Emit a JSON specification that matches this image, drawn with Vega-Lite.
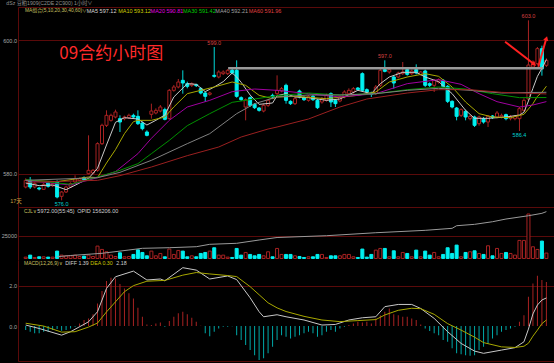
{
"$schema":"https://vega.github.io/schema/vega-lite/v6.json",
"width":536,"height":363,
"autosize":{"type":"none"},
"padding":{"left":18,"top":0,"right":0,"bottom":0},
"background":"#000000",
"config":{"view":{"stroke":null},"axis":{"domainColor":"#5a0a0a","gridColor":"#5a0a0a","ticks":false,"labelColor":"#a8a8a8","labelFont":"Liberation Sans","labelFontSize":5.5,"labelPadding":1.5,"labelBound":false,"labelOverlap":false,"labelFlush":false}},
"datasets":{
"kl":[
{"k":0,"o":578.0,"h":579.3,"l":577.8,"c":579.0,"v":1500,"m":-0.2},
{"k":1,"o":579.0,"h":579.5,"l":577.7,"c":578.0,"v":3700,"m":-0.28},
{"k":2,"o":578.0,"h":578.7,"l":577.8,"c":578.5,"v":1100,"m":-0.36},
{"k":3,"o":577.85,"h":578.0,"l":577.5,"c":577.7,"v":1850,"m":-0.36},
{"k":4,"o":577.65,"h":578.6,"l":577.6,"c":578.4,"v":1850,"m":-0.28},
{"k":5,"o":578.6,"h":578.8,"l":577.9,"c":578.1,"v":1500,"m":-0.28},
{"k":6,"o":578.2,"h":578.6,"l":578.0,"c":578.5,"v":1500,"m":-0.2},
{"k":7,"o":578.8,"h":579.0,"l":576.3,"c":576.5,"v":8150,"m":-0.15},
{"k":8,"o":576.6,"h":577.4,"l":576.0,"c":577.25,"v":3700,"m":-0.23},
{"k":9,"o":577.25,"h":578.2,"l":577.1,"c":578.0,"v":2950,"m":-0.2},
{"k":10,"o":578.0,"h":578.7,"l":577.9,"c":578.5,"v":2950,"m":-0.12},
{"k":11,"o":578.75,"h":579.75,"l":578.6,"c":579.25,"v":3700,"m":-0.03},
{"k":12,"o":579.0,"h":579.4,"l":578.9,"c":579.25,"v":2200,"m":0.13},
{"k":13,"o":579.4,"h":579.6,"l":579.0,"c":579.1,"v":2600,"m":0.3},
{"k":14,"o":580.0,"h":585.75,"l":579.9,"c":580.5,"v":3700,"m":0.38},
{"k":15,"o":580.1,"h":580.7,"l":579.9,"c":580.5,"v":2200,"m":0.58},
{"k":16,"o":580.5,"h":584.7,"l":580.3,"c":584.5,"v":13700,"m":1.12},
{"k":17,"o":584.5,"h":587.5,"l":584.3,"c":587.25,"v":10000,"m":1.73},
{"k":18,"o":587.25,"h":589.5,"l":587.0,"c":588.75,"v":7400,"m":2.23},
{"k":19,"o":588.0,"h":589.0,"l":587.8,"c":588.75,"v":3700,"m":2.39},
{"k":20,"o":588.5,"h":589.6,"l":588.3,"c":589.25,"v":2200,"m":2.36},
{"k":21,"o":588.25,"h":588.75,"l":586.25,"c":587.75,"v":6300,"m":2.08},
{"k":22,"o":588.25,"h":588.7,"l":588.0,"c":588.5,"v":1850,"m":1.86},
{"k":23,"o":588.4,"h":589.0,"l":588.2,"c":588.75,"v":2200,"m":1.62},
{"k":24,"o":588.75,"h":589.0,"l":588.3,"c":588.5,"v":4450,"m":1.37},
{"k":25,"o":588.6,"h":589.5,"l":587.3,"c":587.5,"v":9600,"m":0.91},
{"k":26,"o":587.6,"h":587.8,"l":586.5,"c":586.75,"v":6650,"m":0.46},
{"k":27,"o":586.25,"h":586.5,"l":585.6,"c":585.75,"v":2950,"m":0.08},
{"k":28,"o":588.9,"h":590.5,"l":588.25,"c":589.4,"v":8150,"m":0.05},
{"k":29,"o":589.1,"h":589.8,"l":588.9,"c":589.5,"v":2950,"m":0.13},
{"k":30,"o":589.4,"h":590.3,"l":589.2,"c":590.0,"v":5550,"m":0.18},
{"k":31,"o":589.6,"h":589.9,"l":588.0,"c":588.15,"v":1850,"m":-0.03},
{"k":32,"o":588.25,"h":592.7,"l":588.1,"c":592.5,"v":10400,"m":0.25},
{"k":33,"o":592.5,"h":593.3,"l":592.3,"c":593.0,"v":4450,"m":0.46},
{"k":34,"o":593.0,"h":594.2,"l":592.8,"c":593.75,"v":8900,"m":0.63},
{"k":35,"o":594.0,"h":595.5,"l":592.0,"c":593.6,"v":8150,"m":0.71},
{"k":36,"o":593.5,"h":593.8,"l":592.8,"c":593.1,"v":1850,"m":0.58},
{"k":37,"o":593.25,"h":593.7,"l":593.0,"c":593.5,"v":2950,"m":0.41},
{"k":38,"o":593.35,"h":593.5,"l":593.0,"c":593.2,"v":1850,"m":0.21},
{"k":39,"o":592.75,"h":593.0,"l":591.9,"c":592.1,"v":5550,"m":0.02},
{"k":40,"o":592.1,"h":592.3,"l":590.75,"c":591.6,"v":6650,"m":-0.36},
{"k":41,"o":591.9,"h":592.3,"l":591.7,"c":592.1,"v":8150,"m":-0.5},
{"k":42,"o":594.75,"h":599.0,"l":594.4,"c":594.6,"v":11850,"m":-0.28},
{"k":43,"o":594.5,"h":595.5,"l":594.3,"c":595.25,"v":3700,"m":-0.12},
{"k":44,"o":595.0,"h":595.5,"l":594.8,"c":595.25,"v":3700,"m":-0.03},
{"k":45,"o":595.0,"h":595.7,"l":594.8,"c":595.5,"v":1500,"m":-0.03},
{"k":46,"o":595.5,"h":595.7,"l":594.9,"c":595.1,"v":1100,"m":-0.01},
{"k":47,"o":595.5,"h":597.0,"l":591.4,"c":591.6,"v":11100,"m":-0.45},
{"k":48,"o":591.4,"h":591.6,"l":590.9,"c":591.1,"v":3700,"m":-0.69},
{"k":49,"o":590.0,"h":591.3,"l":588.0,"c":591.1,"v":6650,"m":-0.94},
{"k":50,"o":591.4,"h":591.6,"l":590.0,"c":590.25,"v":4450,"m":-1.19},
{"k":51,"o":590.4,"h":590.6,"l":589.7,"c":589.9,"v":2950,"m":-1.44},
{"k":52,"o":589.85,"h":590.0,"l":589.3,"c":589.5,"v":4450,"m":-1.68},
{"k":53,"o":589.4,"h":590.5,"l":589.2,"c":590.25,"v":2950,"m":-1.6},
{"k":54,"o":590.25,"h":591.2,"l":590.0,"c":591.0,"v":7400,"m":-1.35},
{"k":55,"o":591.75,"h":592.0,"l":591.3,"c":591.5,"v":1850,"m":-1.02},
{"k":56,"o":592.0,"h":594.75,"l":591.8,"c":592.5,"v":11100,"m":-0.69},
{"k":57,"o":592.4,"h":593.0,"l":592.2,"c":592.75,"v":4450,"m":-0.45},
{"k":58,"o":593.25,"h":593.5,"l":590.5,"c":591.0,"v":4450,"m":-0.53},
{"k":59,"o":590.85,"h":591.0,"l":590.3,"c":590.5,"v":4450,"m":-0.61},
{"k":60,"o":590.5,"h":591.5,"l":590.3,"c":591.25,"v":2950,"m":-0.53},
{"k":61,"o":592.4,"h":592.6,"l":591.3,"c":591.5,"v":2200,"m":-0.45},
{"k":62,"o":591.4,"h":591.6,"l":590.9,"c":591.1,"v":1100,"m":-0.36},
{"k":63,"o":591.0,"h":591.8,"l":590.8,"c":591.6,"v":1850,"m":-0.28},
{"k":64,"o":591.6,"h":591.8,"l":590.9,"c":591.1,"v":1850,"m":-0.36},
{"k":65,"o":591.0,"h":591.2,"l":589.7,"c":589.9,"v":4450,"m":-0.53},
{"k":66,"o":590.75,"h":591.5,"l":590.5,"c":591.25,"v":4450,"m":-0.45},
{"k":67,"o":591.0,"h":592.0,"l":590.8,"c":591.75,"v":1100,"m":-0.28},
{"k":68,"o":592.0,"h":592.2,"l":590.0,"c":590.75,"v":2950,"m":-0.2},
{"k":69,"o":591.0,"h":591.2,"l":590.0,"c":590.5,"v":2950,"m":-0.28},
{"k":70,"o":590.9,"h":591.7,"l":590.7,"c":591.5,"v":2950,"m":-0.12},
{"k":71,"o":591.5,"h":592.5,"l":591.3,"c":592.25,"v":4450,"m":-0.03},
{"k":72,"o":592.0,"h":592.8,"l":591.8,"c":592.5,"v":4450,"m":0.05},
{"k":73,"o":592.25,"h":593.0,"l":592.0,"c":592.75,"v":1850,"m":0.13},
{"k":74,"o":592.85,"h":593.0,"l":592.4,"c":592.6,"v":1100,"m":0.21},
{"k":75,"o":595.0,"h":595.2,"l":592.3,"c":592.5,"v":10400,"m":0.18},
{"k":76,"o":592.6,"h":592.8,"l":592.0,"c":592.25,"v":1500,"m":0.21},
{"k":77,"o":592.1,"h":592.3,"l":591.5,"c":591.9,"v":4450,"m":0.13},
{"k":78,"o":592.0,"h":593.3,"l":591.8,"c":593.0,"v":9250,"m":0.38},
{"k":79,"o":593.25,"h":595.7,"l":593.0,"c":595.5,"v":11100,"m":0.54},
{"k":80,"o":595.6,"h":597.0,"l":595.2,"c":595.35,"v":11100,"m":0.71},
{"k":81,"o":595.25,"h":595.8,"l":595.0,"c":595.6,"v":1850,"m":0.87},
{"k":82,"o":594.5,"h":594.7,"l":592.75,"c":593.6,"v":8500,"m":0.58},
{"k":83,"o":594.5,"h":595.3,"l":594.3,"c":595.1,"v":1850,"m":0.54},
{"k":84,"o":595.0,"h":596.75,"l":594.8,"c":595.25,"v":6650,"m":0.46},
{"k":85,"o":595.6,"h":595.8,"l":594.7,"c":594.9,"v":5550,"m":0.46},
{"k":86,"o":595.0,"h":595.6,"l":594.8,"c":595.4,"v":1850,"m":0.38},
{"k":87,"o":595.6,"h":596.4,"l":594.9,"c":595.1,"v":9250,"m":0.3},
{"k":88,"o":594.9,"h":595.4,"l":594.7,"c":595.25,"v":1850,"m":0.08},
{"k":89,"o":595.4,"h":595.6,"l":593.0,"c":593.25,"v":8150,"m":-0.12},
{"k":90,"o":593.5,"h":593.7,"l":593.0,"c":593.25,"v":3700,"m":-0.25},
{"k":91,"o":593.25,"h":594.2,"l":592.25,"c":594.0,"v":6650,"m":-0.36},
{"k":92,"o":593.75,"h":594.3,"l":593.5,"c":594.1,"v":1850,"m":-0.45},
{"k":93,"o":594.0,"h":594.2,"l":592.9,"c":593.1,"v":4450,"m":-0.69},
{"k":94,"o":593.1,"h":593.3,"l":590.6,"c":590.85,"v":11850,"m":-0.78},
{"k":95,"o":590.85,"h":591.0,"l":589.8,"c":590.0,"v":5550,"m":-1.1},
{"k":96,"o":589.85,"h":590.0,"l":588.0,"c":588.6,"v":14800,"m":-1.35},
{"k":97,"o":588.75,"h":589.8,"l":588.5,"c":589.6,"v":1850,"m":-1.4},
{"k":98,"o":589.35,"h":589.6,"l":588.0,"c":588.5,"v":6650,"m":-1.44},
{"k":99,"o":588.25,"h":588.8,"l":588.0,"c":588.6,"v":7400,"m":-1.47},
{"k":100,"o":588.5,"h":588.7,"l":587.0,"c":587.25,"v":8500,"m":-1.44},
{"k":101,"o":587.5,"h":588.7,"l":587.2,"c":588.5,"v":5550,"m":-1.19},
{"k":102,"o":588.25,"h":588.5,"l":587.5,"c":587.75,"v":4450,"m":-1.02},
{"k":103,"o":587.75,"h":588.8,"l":587.0,"c":588.6,"v":14050,"m":-0.86},
{"k":104,"o":588.65,"h":588.8,"l":588.2,"c":588.4,"v":2950,"m":-0.61},
{"k":105,"o":588.5,"h":589.4,"l":588.3,"c":589.1,"v":11100,"m":-0.45},
{"k":106,"o":588.5,"h":589.0,"l":588.3,"c":588.75,"v":5550,"m":-0.28},
{"k":107,"o":588.85,"h":589.0,"l":588.0,"c":588.25,"v":6650,"m":-0.2},
{"k":108,"o":588.25,"h":588.8,"l":588.0,"c":588.6,"v":5550,"m":-0.12},
{"k":109,"o":588.25,"h":588.8,"l":588.0,"c":588.6,"v":3700,"m":-0.03},
{"k":110,"o":588.25,"h":590.0,"l":586.4,"c":589.75,"v":20000,"m":0.21},
{"k":111,"o":589.5,"h":591.3,"l":589.3,"c":591.0,"v":20000,"m":0.54},
{"k":112,"o":591.2,"h":603.0,"l":591.0,"c":596.3,"v":49250,"m":1.45},
{"k":113,"o":596.0,"h":597.0,"l":595.8,"c":596.7,"v":12950,"m":2.11},
{"k":114,"o":596.5,"h":599.0,"l":596.3,"c":598.75,"v":10000,"m":2.49},
{"k":115,"o":598.75,"h":599.2,"l":594.7,"c":595.75,"v":19250,"m":2.28},
{"k":116,"o":596.25,"h":597.3,"l":596.0,"c":597.0,"v":5972,"m":2.18}
],
"ma":[
{"s":"MA5","k":0,"v":578.6},{"s":"MA5","k":3,"v":578.2},{"s":"MA5","k":6,"v":578.3},{"s":"MA5","k":9,"v":577.6},{"s":"MA5","k":12,"v":578.6},{"s":"MA5","k":14,"v":579.3},{"s":"MA5","k":16,"v":580.8},{"s":"MA5","k":18,"v":584.3},{"s":"MA5","k":20,"v":587.7},{"s":"MA5","k":22,"v":588.4},{"s":"MA5","k":25,"v":588.2},{"s":"MA5","k":27,"v":587.3},{"s":"MA5","k":29,"v":588.0},{"s":"MA5","k":31,"v":588.8},{"s":"MA5","k":33,"v":591.5},{"s":"MA5","k":36,"v":593.5},{"s":"MA5","k":38,"v":593.4},{"s":"MA5","k":40,"v":592.3},{"s":"MA5","k":42,"v":593.0},{"s":"MA5","k":44,"v":593.8},{"s":"MA5","k":46,"v":595.1},{"s":"MA5","k":47,"v":594.5},{"s":"MA5","k":48,"v":593.7},{"s":"MA5","k":50,"v":591.8},{"s":"MA5","k":52,"v":590.4},{"s":"MA5","k":55,"v":590.6},{"s":"MA5","k":56,"v":591.7},{"s":"MA5","k":58,"v":592.0},{"s":"MA5","k":60,"v":591.5},{"s":"MA5","k":63,"v":591.4},{"s":"MA5","k":67,"v":591.0},{"s":"MA5","k":70,"v":591.2},{"s":"MA5","k":74,"v":592.5},{"s":"MA5","k":77,"v":592.0},{"s":"MA5","k":79,"v":593.5},{"s":"MA5","k":81,"v":594.5},{"s":"MA5","k":84,"v":595.2},{"s":"MA5","k":87,"v":595.2},{"s":"MA5","k":89,"v":594.5},{"s":"MA5","k":92,"v":593.8},{"s":"MA5","k":95,"v":592.0},{"s":"MA5","k":98,"v":589.5},{"s":"MA5","k":100,"v":588.3},{"s":"MA5","k":103,"v":588.3},{"s":"MA5","k":107,"v":588.5},{"s":"MA5","k":110,"v":588.8},{"s":"MA5","k":111,"v":589.2},{"s":"MA5","k":112,"v":590.9},{"s":"MA5","k":113,"v":592.8},{"s":"MA5","k":114,"v":594.6},{"s":"MA5","k":115,"v":595.8},{"s":"MA5","k":116,"v":597.12},
{"s":"MA10","k":0,"v":579.0},{"s":"MA10","k":7,"v":578.8},{"s":"MA10","k":14,"v":579.5},{"s":"MA10","k":16,"v":579.4},{"s":"MA10","k":18,"v":581.6},{"s":"MA10","k":20,"v":583.6},{"s":"MA10","k":22,"v":586.0},{"s":"MA10","k":24,"v":587.8},{"s":"MA10","k":25,"v":588.0},{"s":"MA10","k":28,"v":588.0},{"s":"MA10","k":31,"v":588.5},{"s":"MA10","k":33,"v":590.0},{"s":"MA10","k":36,"v":592.0},{"s":"MA10","k":39,"v":592.5},{"s":"MA10","k":42,"v":593.0},{"s":"MA10","k":46,"v":593.75},{"s":"MA10","k":49,"v":593.25},{"s":"MA10","k":52,"v":591.75},{"s":"MA10","k":55,"v":591.25},{"s":"MA10","k":56,"v":591.5},{"s":"MA10","k":60,"v":591.6},{"s":"MA10","k":67,"v":591.25},{"s":"MA10","k":74,"v":591.75},{"s":"MA10","k":78,"v":592.25},{"s":"MA10","k":81,"v":593.75},{"s":"MA10","k":85,"v":594.5},{"s":"MA10","k":89,"v":595.0},{"s":"MA10","k":92,"v":594.6},{"s":"MA10","k":95,"v":593.0},{"s":"MA10","k":98,"v":590.75},{"s":"MA10","k":101,"v":589.0},{"s":"MA10","k":104,"v":588.5},{"s":"MA10","k":108,"v":588.4},{"s":"MA10","k":111,"v":588.9},{"s":"MA10","k":112,"v":589.7},{"s":"MA10","k":113,"v":590.5},{"s":"MA10","k":114,"v":591.6},{"s":"MA10","k":115,"v":592.2},{"s":"MA10","k":116,"v":593.12},
{"s":"MA20","k":0,"v":579.0},{"s":"MA20","k":10,"v":578.3},{"s":"MA20","k":16,"v":579.4},{"s":"MA20","k":20,"v":580.3},{"s":"MA20","k":25,"v":583.0},{"s":"MA20","k":28,"v":585.3},{"s":"MA20","k":32,"v":588.0},{"s":"MA20","k":36,"v":590.0},{"s":"MA20","k":41,"v":591.0},{"s":"MA20","k":46,"v":592.3},{"s":"MA20","k":51,"v":592.7},{"s":"MA20","k":56,"v":592.5},{"s":"MA20","k":63,"v":592.0},{"s":"MA20","k":70,"v":591.5},{"s":"MA20","k":78,"v":592.0},{"s":"MA20","k":85,"v":593.5},{"s":"MA20","k":92,"v":594.1},{"s":"MA20","k":97,"v":593.4},{"s":"MA20","k":101,"v":592.0},{"s":"MA20","k":105,"v":590.8},{"s":"MA20","k":110,"v":590.0},{"s":"MA20","k":113,"v":590.3},{"s":"MA20","k":116,"v":590.81},
{"s":"MA30","k":0,"v":579.1},{"s":"MA30","k":10,"v":578.4},{"s":"MA30","k":16,"v":579.5},{"s":"MA30","k":21,"v":580.5},{"s":"MA30","k":25,"v":581.5},{"s":"MA30","k":28,"v":583.0},{"s":"MA30","k":32,"v":585.0},{"s":"MA30","k":36,"v":587.2},{"s":"MA30","k":41,"v":589.0},{"s":"MA30","k":46,"v":590.7},{"s":"MA30","k":51,"v":591.2},{"s":"MA30","k":56,"v":591.7},{"s":"MA30","k":63,"v":592.1},{"s":"MA30","k":70,"v":591.8},{"s":"MA30","k":78,"v":592.0},{"s":"MA30","k":85,"v":592.6},{"s":"MA30","k":92,"v":593.0},{"s":"MA30","k":98,"v":592.7},{"s":"MA30","k":104,"v":592.0},{"s":"MA30","k":110,"v":591.4},{"s":"MA30","k":116,"v":591.42},
{"s":"MA40","k":0,"v":579.0},{"s":"MA40","k":16,"v":579.4},{"s":"MA40","k":21,"v":580.2},{"s":"MA40","k":28,"v":582.0},{"s":"MA40","k":36,"v":584.5},{"s":"MA40","k":41,"v":586.0},{"s":"MA40","k":47,"v":589.0},{"s":"MA40","k":51,"v":590.5},{"s":"MA40","k":56,"v":591.5},{"s":"MA40","k":63,"v":591.8},{"s":"MA40","k":70,"v":591.8},{"s":"MA40","k":78,"v":592.0},{"s":"MA40","k":85,"v":592.5},{"s":"MA40","k":92,"v":592.8},{"s":"MA40","k":99,"v":592.5},{"s":"MA40","k":106,"v":592.1},{"s":"MA40","k":116,"v":592.21},
{"s":"MA60","k":0,"v":578.7},{"s":"MA60","k":16,"v":579.0},{"s":"MA60","k":21,"v":579.7},{"s":"MA60","k":28,"v":581.0},{"s":"MA60","k":36,"v":582.7},{"s":"MA60","k":43,"v":584.0},{"s":"MA60","k":48,"v":585.5},{"s":"MA60","k":54,"v":586.7},{"s":"MA60","k":56,"v":587.0},{"s":"MA60","k":63,"v":588.2},{"s":"MA60","k":70,"v":590.0},{"s":"MA60","k":76,"v":591.2},{"s":"MA60","k":85,"v":592.1},{"s":"MA60","k":92,"v":592.6},{"s":"MA60","k":99,"v":592.6},{"s":"MA60","k":106,"v":592.2},{"s":"MA60","k":116,"v":591.96}
],
"oi":[
{"k":7,"v":138700},{"k":10,"v":139160},{"k":17,"v":140020},{"k":23,"v":141300},{"k":26,"v":141960},{"k":32,"v":142190},{"k":38,"v":142580},{"k":41,"v":143510},{"k":47,"v":143900},{"k":52,"v":145180},{"k":56,"v":146150},{"k":67,"v":146850},{"k":78,"v":148010},{"k":89,"v":148940},{"k":95,"v":149720},{"k":96,"v":150730},{"k":100,"v":151270},{"k":104,"v":152280},{"k":107,"v":153330},{"k":112,"v":154610},{"k":115,"v":155540},{"k":116,"v":156206}
],
"ml":[
{"s":"DIFF","k":0,"v":0.05},{"s":"DIFF","k":3,"v":-0.12},{"s":"DIFF","k":8,"v":-0.45},{"s":"DIFF","k":10,"v":-0.28},{"s":"DIFF","k":14,"v":0.21},{"s":"DIFF","k":16,"v":0.71},{"s":"DIFF","k":18,"v":1.86},{"s":"DIFF","k":20,"v":2.44},{"s":"DIFF","k":24,"v":2.72},{"s":"DIFF","k":27,"v":2.28},{"s":"DIFF","k":30,"v":2.33},{"s":"DIFF","k":31,"v":2.24},{"s":"DIFF","k":35,"v":2.89},{"s":"DIFF","k":38,"v":2.77},{"s":"DIFF","k":41,"v":2.33},{"s":"DIFF","k":45,"v":2.48},{"s":"DIFF","k":47,"v":2.3},{"s":"DIFF","k":50,"v":1.4},{"s":"DIFF","k":52,"v":0.71},{"s":"DIFF","k":53,"v":0.46},{"s":"DIFF","k":56,"v":0.56},{"s":"DIFF","k":58,"v":0.46},{"s":"DIFF","k":62,"v":0.3},{"s":"DIFF","k":66,"v":0.05},{"s":"DIFF","k":69,"v":0.08},{"s":"DIFF","k":72,"v":0.3},{"s":"DIFF","k":75,"v":0.41},{"s":"DIFF","k":78,"v":0.46},{"s":"DIFF","k":80,"v":0.96},{"s":"DIFF","k":83,"v":1.07},{"s":"DIFF","k":86,"v":1.07},{"s":"DIFF","k":88,"v":0.87},{"s":"DIFF","k":91,"v":0.38},{"s":"DIFF","k":94,"v":-0.28},{"s":"DIFF","k":97,"v":-0.86},{"s":"DIFF","k":100,"v":-1.24},{"s":"DIFF","k":102,"v":-1.35},{"s":"DIFF","k":106,"v":-1.19},{"s":"DIFF","k":109,"v":-1.07},{"s":"DIFF","k":111,"v":-0.78},{"s":"DIFF","k":112,"v":-0.15},{"s":"DIFF","k":113,"v":0.6},{"s":"DIFF","k":114,"v":1.04},{"s":"DIFF","k":115,"v":1.29},{"s":"DIFF","k":116,"v":1.39},
{"s":"DEA","k":0,"v":0.14},{"s":"DEA","k":4,"v":0.0},{"s":"DEA","k":8,"v":-0.3},{"s":"DEA","k":11,"v":-0.28},{"s":"DEA","k":14,"v":-0.05},{"s":"DEA","k":16,"v":0.15},{"s":"DEA","k":18,"v":0.7},{"s":"DEA","k":20,"v":1.2},{"s":"DEA","k":22,"v":1.7},{"s":"DEA","k":24,"v":2.0},{"s":"DEA","k":27,"v":2.22},{"s":"DEA","k":31,"v":2.26},{"s":"DEA","k":35,"v":2.52},{"s":"DEA","k":38,"v":2.65},{"s":"DEA","k":41,"v":2.58},{"s":"DEA","k":45,"v":2.5},{"s":"DEA","k":47,"v":2.45},{"s":"DEA","k":50,"v":1.95},{"s":"DEA","k":52,"v":1.55},{"s":"DEA","k":54,"v":1.15},{"s":"DEA","k":56,"v":0.9},{"s":"DEA","k":58,"v":0.72},{"s":"DEA","k":62,"v":0.48},{"s":"DEA","k":66,"v":0.3},{"s":"DEA","k":70,"v":0.22},{"s":"DEA","k":74,"v":0.27},{"s":"DEA","k":78,"v":0.32},{"s":"DEA","k":80,"v":0.55},{"s":"DEA","k":83,"v":0.78},{"s":"DEA","k":86,"v":0.88},{"s":"DEA","k":88,"v":0.86},{"s":"DEA","k":91,"v":0.58},{"s":"DEA","k":94,"v":0.12},{"s":"DEA","k":97,"v":-0.2},{"s":"DEA","k":100,"v":-0.55},{"s":"DEA","k":102,"v":-0.82},{"s":"DEA","k":106,"v":-1.03},{"s":"DEA","k":109,"v":-1.06},{"s":"DEA","k":111,"v":-1.0},{"s":"DEA","k":112,"v":-0.85},{"s":"DEA","k":113,"v":-0.5},{"s":"DEA","k":114,"v":-0.2},{"s":"DEA","k":115,"v":0.12},{"s":"DEA","k":116,"v":0.3}
],
"hl":[
{"k":8,"p":576.0,"kind":"low"},{"k":42,"p":599.0,"kind":"high"},{"k":80,"p":597.0,"kind":"high"},{"k":110,"p":586.4,"kind":"low"},{"k":112,"p":603.0,"kind":"high"}
]
},
"layer":[
{"data":{"name":"kl"},"mark":{"type":"rule","strokeWidth":1},
 "encoding":{"x":{"field":"k","type":"quantitative","scale":{"domain":[-0.6,116.58],"nice":false,"zero":false},"axis":null},
  "y":{"field":"l","type":"quantitative","scale":{"domain":[575,605],"range":[207,7],"nice":false,"zero":false},
   "axis":{"orient":"left","values":[575,580,600,605],"grid":true,"title":null,"labelExpr":"datum.value==580||datum.value==600?format(datum.value,'.1f'):''"}},
  "y2":{"field":"h"},
  "color":{"condition":{"test":"datum.c>=datum.o","value":"#a82222"},"value":"#00d8d8"}}},
{"data":{"name":"kl"},"mark":{"type":"bar","size":3,"strokeWidth":1},
 "encoding":{"x":{"field":"k","type":"quantitative"},
  "y":{"field":"o","type":"quantitative","scale":{"domain":[575,605],"range":[207,7],"nice":false,"zero":false},"axis":null},
  "y2":{"field":"c"},
  "fill":{"condition":{"test":"datum.c>=datum.o","value":"#000000"},"value":"#00f0f0"},
  "stroke":{"condition":{"test":"datum.c>=datum.o","value":"#a82222"},"value":"#00f0f0"}}},
{"data":{"name":"ma"},"mark":{"type":"line","strokeWidth":1},
 "encoding":{"x":{"field":"k","type":"quantitative"},
  "y":{"field":"v","type":"quantitative","scale":{"domain":[575,605],"range":[207,7],"nice":false,"zero":false},"axis":null},
  "color":{"field":"s","type":"nominal","legend":null,"scale":{"domain":["MA5","MA10","MA20","MA30","MA40","MA60","DIFF","DEA"],"range":["#c8c8c8","#a8a800","#a000a0","#009000","#808080","#9a2020","#c8c8c8","#a8a800"]}}}},
{"data":{"values":[{}]},"mark":{"type":"rule","strokeWidth":2.5,"color":"#9a9a9a"},
 "encoding":{"x":{"datum":45.1},"x2":{"datum":115.3},"y":{"datum":595.8,"scale":{"domain":[575,605],"range":[207,7],"nice":false,"zero":false},"axis":null}}},
{"data":{"name":"hl"},"transform":[{"filter":"datum.kind=='high'"}],"mark":{"type":"text","fontSize":5.5,"font":"Liberation Sans","color":"#d84040","dy":-4.5},
 "encoding":{"x":{"field":"k","type":"quantitative"},"y":{"field":"p","type":"quantitative","scale":{"domain":[575,605],"range":[207,7],"nice":false,"zero":false},"axis":null},"text":{"field":"p","type":"quantitative","format":".1f"}}},
{"data":{"name":"hl"},"transform":[{"filter":"datum.kind=='low'"}],"mark":{"type":"text","fontSize":5.5,"font":"Liberation Sans","color":"#00d0d0","dy":4},
 "encoding":{"x":{"field":"k","type":"quantitative"},"y":{"field":"p","type":"quantitative","scale":{"domain":[575,605],"range":[207,7],"nice":false,"zero":false},"axis":null},"text":{"field":"p","type":"quantitative","format":".1f"}}},
{"data":{"values":[{}]},"mark":{"type":"text","align":"left","baseline":"middle","fontSize":5.2,"font":"Liberation Sans, Noto Sans CJK SC","color":"#909090","text":"dSz  豆粕1909(C2DE 2C900)    1小时∨"},
 "encoding":{"x":{"datum":-4.32},"y":{"datum":605.675,"scale":{"domain":[575,605],"range":[207,7],"nice":false,"zero":false},"axis":null}}},
{"data":{"values":[{}]},"mark":{"type":"text","align":"left","baseline":"middle","fontSize":4.9,"font":"Liberation Sans, Noto Sans CJK SC","color":"#c8c060","text":"MA组合(5,10,20,30,40,60)∨"},
 "encoding":{"x":{"datum":-0.16},"y":{"datum":604.475,"scale":{"domain":[575,605],"range":[207,7],"nice":false,"zero":false},"axis":null}}},
{"data":{"values":[{}]},"mark":{"type":"text","align":"left","baseline":"middle","fontSize":5.5,"font":"Liberation Sans","color":"#d8d8d8","text":"MA5 597.12"},
 "encoding":{"x":{"datum":13.61},"y":{"datum":604.475,"scale":{"domain":[575,605],"range":[207,7],"nice":false,"zero":false},"axis":null}}},
{"data":{"values":[{}]},"mark":{"type":"text","align":"left","baseline":"middle","fontSize":5.5,"font":"Liberation Sans","color":"#d0d000","text":"MA10 593.12"},
 "encoding":{"x":{"datum":20.6},"y":{"datum":604.475,"scale":{"domain":[575,605],"range":[207,7],"nice":false,"zero":false},"axis":null}}},
{"data":{"values":[{}]},"mark":{"type":"text","align":"left","baseline":"middle","fontSize":5.5,"font":"Liberation Sans","color":"#e000e0","text":"MA20 590.81"},
 "encoding":{"x":{"datum":27.82},"y":{"datum":604.475,"scale":{"domain":[575,605],"range":[207,7],"nice":false,"zero":false},"axis":null}}},
{"data":{"values":[{}]},"mark":{"type":"text","align":"left","baseline":"middle","fontSize":5.5,"font":"Liberation Sans","color":"#00d000","text":"MA30 591.42"},
 "encoding":{"x":{"datum":35.04},"y":{"datum":604.475,"scale":{"domain":[575,605],"range":[207,7],"nice":false,"zero":false},"axis":null}}},
{"data":{"values":[{}]},"mark":{"type":"text","align":"left","baseline":"middle","fontSize":5.5,"font":"Liberation Sans","color":"#a0a0a0","text":"MA40 592.21"},
 "encoding":{"x":{"datum":42.25},"y":{"datum":604.475,"scale":{"domain":[575,605],"range":[207,7],"nice":false,"zero":false},"axis":null}}},
{"data":{"values":[{}]},"mark":{"type":"text","align":"left","baseline":"middle","fontSize":5.5,"font":"Liberation Sans","color":"#e04040","text":"MA60 591.96"},
 "encoding":{"x":{"datum":49.68},"y":{"datum":604.475,"scale":{"domain":[575,605],"range":[207,7],"nice":false,"zero":false},"axis":null}}},
{"data":{"values":[{}]},"mark":{"type":"text","align":"left","baseline":"middle","fontSize":17,"font":"Noto Sans CJK SC","color":"#ff2a2a","text":"09合约小时图"},
 "encoding":{"x":{"datum":7.49},"y":{"datum":597.95,"scale":{"domain":[575,605],"range":[207,7],"nice":false,"zero":false},"axis":null}}},
{"data":{"values":[{}]},"mark":{"type":"text","align":"left","baseline":"middle","fontSize":5.5,"font":"Liberation Sans, Noto Sans CJK SC","color":"#c8a040","text":"17天"},
 "encoding":{"x":{"datum":-3.44},"y":{"datum":575.9,"scale":{"domain":[575,605],"range":[207,7],"nice":false,"zero":false},"axis":null}}},
{"data":{"values":[{}]},"mark":{"type":"rule","strokeWidth":2,"color":"#ff2020"},
 "encoding":{"x":{"datum":106.8},"x2":{"datum":113.3},"y":{"datum":599.8,"scale":{"domain":[575,605],"range":[207,7],"nice":false,"zero":false},"axis":null},"y2":{"datum":596.4}}},
{"data":{"values":[{}]},"mark":{"type":"rule","strokeWidth":2,"color":"#ff2020"},
 "encoding":{"x":{"datum":114.2},"x2":{"datum":115.9},"y":{"datum":596.05,"scale":{"domain":[575,605],"range":[207,7],"nice":false,"zero":false},"axis":null},"y2":{"datum":600.1}}},
{"data":{"values":[{}]},"mark":{"type":"point","shape":"triangle-up","filled":true,"size":28,"angle":127,"color":"#ff2020","opacity":1},
 "encoding":{"x":{"datum":113.3},"y":{"datum":596.4,"scale":{"domain":[575,605],"range":[207,7],"nice":false,"zero":false},"axis":null}}},
{"data":{"values":[{}]},"mark":{"type":"point","shape":"triangle-up","filled":true,"size":28,"angle":17,"color":"#ff2020","opacity":1},
 "encoding":{"x":{"datum":116.0},"y":{"datum":600.3,"scale":{"domain":[575,605],"range":[207,7],"nice":false,"zero":false},"axis":null}}},
{"data":{"name":"kl"},"mark":{"type":"bar","size":3,"strokeWidth":1},
 "encoding":{"x":{"field":"k","type":"quantitative"},
  "y":{"field":"v","type":"quantitative","scale":{"domain":[-1700,57000],"range":[260,207],"nice":false,"zero":false},
   "axis":{"orient":"left","values":[25000],"grid":true,"title":null,"format":"d"}},
  "y2":{"datum":0},
  "fill":{"condition":{"test":"datum.c>=datum.o","value":"#000000"},"value":"#00f0f0"},
  "stroke":{"condition":{"test":"datum.c>=datum.o","value":"#a82222"},"value":"#00f0f0"}}},
{"data":{"name":"oi"},"mark":{"type":"line","strokeWidth":1,"color":"#9a9a9a"},
 "encoding":{"x":{"field":"k","type":"quantitative"},
  "y":{"field":"v","type":"quantitative","scale":{"domain":[138000,158000],"range":[258.5,207],"nice":false,"zero":false},"axis":null}}},
{"data":{"values":[{}]},"mark":{"type":"text","align":"left","baseline":"middle","fontSize":5,"font":"Liberation Sans","color":"#c8c060","text":"CJL∨"},
 "encoding":{"x":{"datum":-0.38},"y":{"datum":52900,"scale":{"domain":[-1700,57000],"range":[260,207],"nice":false,"zero":false},"axis":null}}},
{"data":{"values":[{}]},"mark":{"type":"text","align":"left","baseline":"middle","fontSize":5.5,"font":"Liberation Sans","color":"#d0d0d0","text":"5972.00(55:45)"},
 "encoding":{"x":{"datum":2.6},"y":{"datum":52900,"scale":{"domain":[-1700,57000],"range":[260,207],"nice":false,"zero":false},"axis":null}}},
{"data":{"values":[{}]},"mark":{"type":"text","align":"left","baseline":"middle","fontSize":5.5,"font":"Liberation Sans","color":"#d0d0d0","text":"OPID 156206.00"},
 "encoding":{"x":{"datum":11.5},"y":{"datum":52900,"scale":{"domain":[-1700,57000],"range":[260,207],"nice":false,"zero":false},"axis":null}}},
{"data":{"name":"kl"},"mark":{"type":"bar","size":1},
 "encoding":{"x":{"field":"k","type":"quantitative"},
  "y":{"field":"m","type":"quantitative","scale":{"domain":[-1.73,3.27],"range":[361,260],"nice":false,"zero":false},
   "axis":{"orient":"left","values":[-1.73,0,2],"grid":true,"title":null,"gridOpacity":{"condition":{"test":"datum.value==0","value":0},"value":1},"labelExpr":"datum.value<-1?'':format(datum.value,'.1f')"}},
  "y2":{"datum":0},
  "color":{"condition":{"test":"datum.m>=0","value":"#a82222"},"value":"#00a8a8"}}},
{"data":{"name":"ml"},"mark":{"type":"line","strokeWidth":1},
 "encoding":{"x":{"field":"k","type":"quantitative"},
  "y":{"field":"v","type":"quantitative","scale":{"domain":[-1.73,3.27],"range":[361,260],"nice":false,"zero":false},"axis":null},
  "color":{"field":"s","type":"nominal","legend":null,"scale":{"domain":["MA5","MA10","MA20","MA30","MA40","MA60","DIFF","DEA"],"range":["#c8c8c8","#a8a800","#a000a0","#009000","#808080","#9a2020","#c8c8c8","#a8a800"]}}}},
{"data":{"values":[{}]},"mark":{"type":"text","align":"left","baseline":"middle","fontSize":5,"font":"Liberation Sans","color":"#c8c060","text":"MACD(12,26,9)∨"},
 "encoding":{"x":{"datum":-0.38},"y":{"datum":3.107,"scale":{"domain":[-1.73,3.27],"range":[361,260],"nice":false,"zero":false},"axis":null}}},
{"data":{"values":[{}]},"mark":{"type":"text","align":"left","baseline":"middle","fontSize":5.3,"font":"Liberation Sans","color":"#d0d0d0","text":"DIFF 1.39"},
 "encoding":{"x":{"datum":8.8},"y":{"datum":3.107,"scale":{"domain":[-1.73,3.27],"range":[361,260],"nice":false,"zero":false},"axis":null}}},
{"data":{"values":[{}]},"mark":{"type":"text","align":"left","baseline":"middle","fontSize":5.3,"font":"Liberation Sans","color":"#c8c800","text":"DEA 0.30"},
 "encoding":{"x":{"datum":14.4},"y":{"datum":3.107,"scale":{"domain":[-1.73,3.27],"range":[361,260],"nice":false,"zero":false},"axis":null}}},
{"data":{"values":[{}]},"mark":{"type":"text","align":"left","baseline":"middle","fontSize":5.3,"font":"Liberation Sans","color":"#d0d0d0","text":"2.18"},
 "encoding":{"x":{"datum":20.2},"y":{"datum":3.107,"scale":{"domain":[-1.73,3.27],"range":[361,260],"nice":false,"zero":false},"axis":null}}}
],
"resolve":{"scale":{"y":"independent"},"axis":{"y":"independent"}}
}
